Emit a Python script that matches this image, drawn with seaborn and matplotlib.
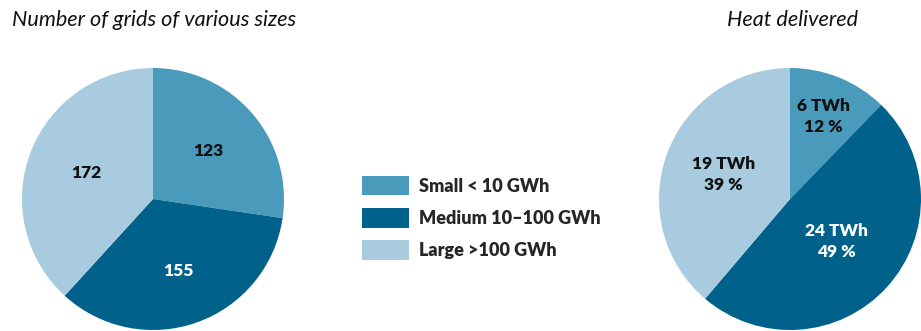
import matplotlib
matplotlib.use("Agg")
import matplotlib.pyplot as plt
from matplotlib.patches import Patch
import numpy as np
import seaborn as sns

# Data
categories = ["Small < 10 GWh", "Medium 10\u2013100 GWh", "Large >100 GWh"]
grid_counts = [123, 155, 172]
heat_twh = [6, 24, 19]
heat_pct = [12, 49, 39]
palette = ["#4A9BBB", "#00628B", "#A8CBDF"]
label_colors = ["#111111", "#ffffff", "#111111"]

sns.set_theme(style="white")
plt.rcParams["font.family"] = ["Lato", "DejaVu Sans"]

W, H = 921, 331
fig = plt.figure(figsize=(W / 100, H / 100), dpi=100)
fig.patch.set_facecolor("white")


def pie_axes(cx, cy, r):
    return fig.add_axes([(cx - r) / W, (H - cy - r) / H, 2 * r / W, 2 * r / H])


def draw_pie(ax, values, texts, dists):
    wedges, _ = ax.pie(values, colors=palette, startangle=90, counterclock=False,
                       radius=1, wedgeprops=dict(linewidth=0))
    for w, txt, d, c in zip(wedges, texts, dists, label_colors):
        mid = np.deg2rad((w.theta1 + w.theta2) / 2)
        ax.text(d * np.cos(mid), d * np.sin(mid), txt, ha="center", va="center",
                fontsize=12.5, fontweight="heavy", color=c, linespacing=1.35)
    ax.set_xlim(-1, 1)
    ax.set_ylim(-1, 1)
    ax.set_aspect("equal")
    ax.axis("off")


ax1 = pie_axes(153, 199, 131)
draw_pie(ax1, grid_counts, [str(v) for v in grid_counts], [0.56, 0.58, 0.55])

ax2 = pie_axes(790, 199, 131)
draw_pie(ax2, heat_twh,
         [f"{t} TWh\n{p} %" for t, p in zip(heat_twh, heat_pct)],
         [0.68, 0.48, 0.54])

fig.text(12 / W, 1 - 20 / H, "Number of grids of various sizes", fontsize=15.6,
         fontstyle="italic", ha="left", va="center", color="#111111")
fig.text(793 / W, 1 - 20 / H, "Heat delivered", fontsize=15.6,
         fontstyle="italic", ha="center", va="center", color="#111111")

handles = [Patch(facecolor=c, edgecolor="none") for c in palette]
fig.legend(handles, categories, loc="upper left",
           bbox_to_anchor=(358 / W, 1 - 172 / H), frameon=False,
           prop=dict(size=13, weight="heavy"), handlelength=2.6,
           handleheight=1.3, labelspacing=0.7, handletextpad=0.6,
           borderaxespad=0, borderpad=0.2)

fig.savefig("out.png", dpi=100)
